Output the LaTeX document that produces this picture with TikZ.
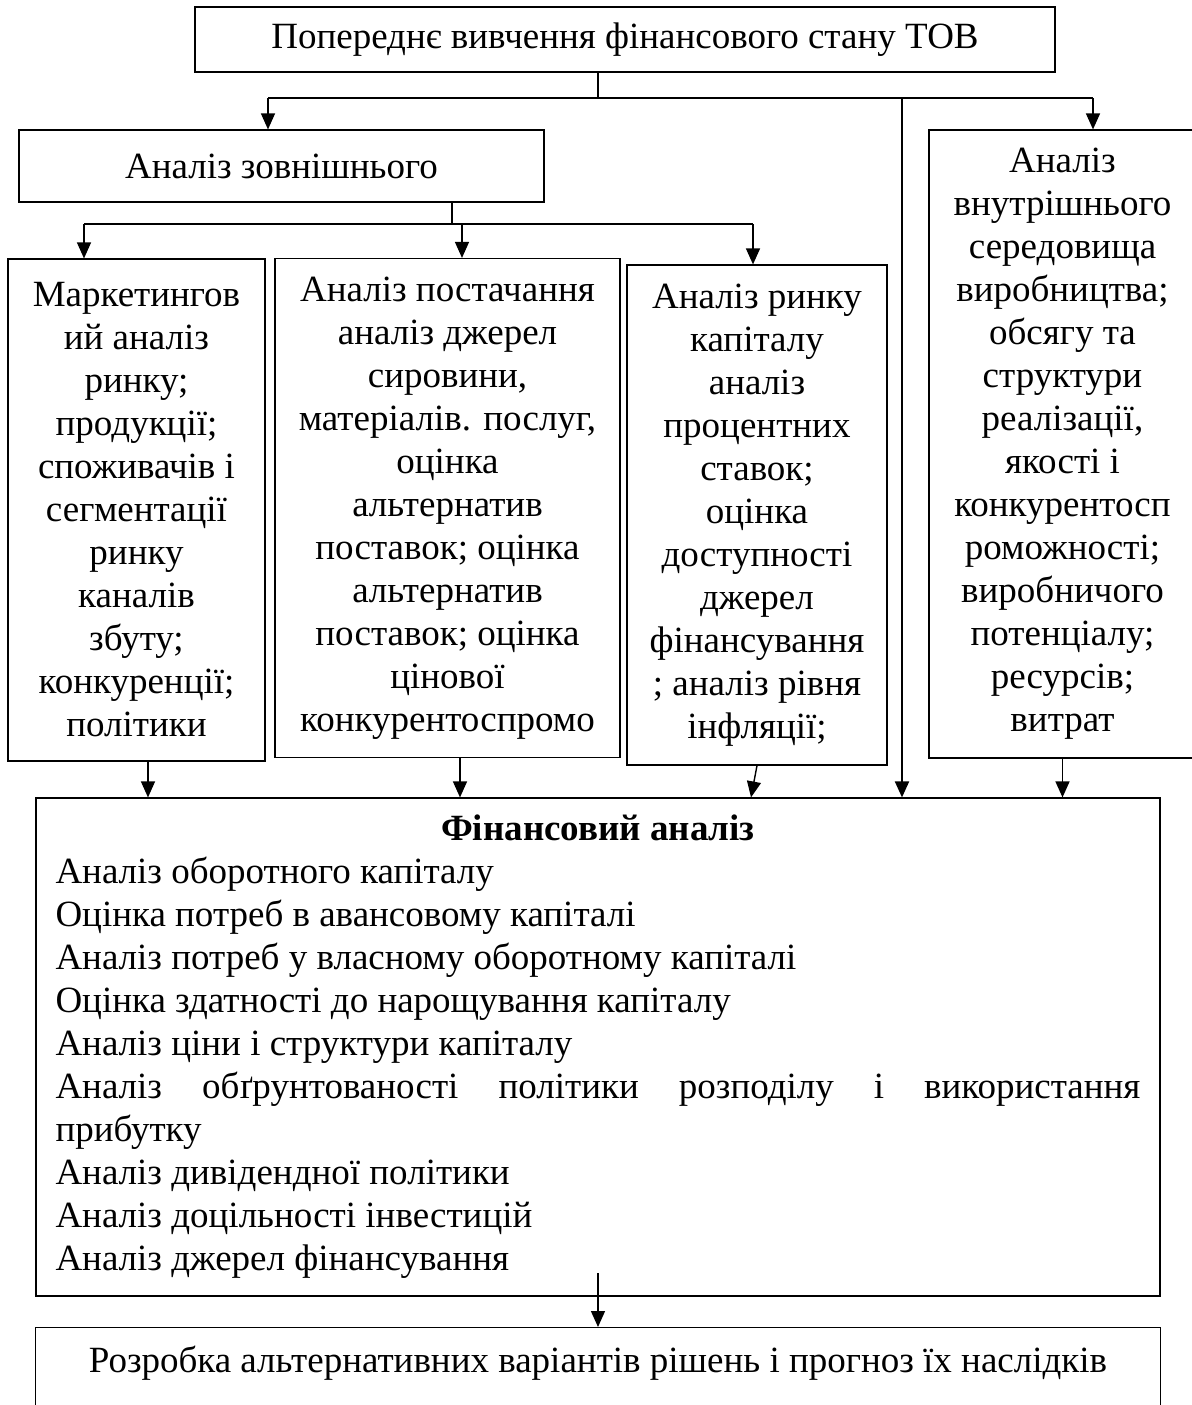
\documentclass[tikz,border=0pt]{standalone}
\usepackage{fontspec}
\setmainfont{Liberation Serif}
\usetikzlibrary{arrows.meta}
\setlength{\parindent}{0pt}
\setlength{\parskip}{0pt}

\tikzset{
  box/.style={draw, line width=0.6pt, inner sep=0pt},
  col/.style={box, align=flush center, text width=125pt},
  conn/.style={line width=0.7pt},
  arr/.style={conn, -{Triangle[length=8pt,width=7pt]}},
}

\begin{document}
\begin{tikzpicture}[x=0.5pt, y=-0.5pt, font=\fontsize{18.5pt}{21.5pt}\selectfont]
\useasboundingbox (0,0) rectangle (1192,1405);

% boxes
\node[box, minimum width=430pt, minimum height=32.5pt] (prev) at (625,39.5)
  {Попереднє вивчення фінансового стану ТОВ};
\node[box, minimum width=262.5pt, minimum height=36pt] (zovn) at (281.5,166)
  {Аналіз зовнішнього};
\node[col, minimum width=128.5pt, minimum height=251pt] (mark) at (136.5,510)
  {Маркетингов\\ий аналіз\\ринку;\\продукції;\\споживачів і\\сегментації\\ринку\\каналів\\збуту;\\конкуренції;\\політики};
\node[col, text width=165pt, minimum width=172.5pt, minimum height=249.5pt] (post) at (447.5,508)
  {Аналіз постачання\\аналіз джерел\\сировини,\\матеріалів. послуг,\\оцінка\\альтернатив\\поставок; оцінка\\альтернатив\\поставок; оцінка\\цінової\\конкурентоспромо};
\node[col, minimum width=130pt, minimum height=250pt] (kapit) at (757,515)
  {Аналіз ринку\\капіталу\\аналіз\\процентних\\ставок;\\оцінка\\доступності\\джерел\\фінансування\\; аналіз рівня\\інфляції;};
\node[col, minimum width=133.5pt, minimum height=314pt] (vnutr) at (1062.5,444)
  {Аналіз\\внутрішнього\\середовища\\виробництва;\\обсягу та\\структури\\реалізації,\\якості і\\конкурентосп\\роможності;\\виробничого\\потенціалу;\\ресурсів;\\витрат};
\node[box, text width=542.5pt, minimum width=562pt, minimum height=249pt] (fin) at (598,1047)
  {\leftskip=0pt \rightskip=0pt \parfillskip=0pt plus 1fil \spaceskip=0pt \xspaceskip=0pt
   {\centering\bfseries Фінансовий аналіз\par}
   Аналіз оборотного капіталу\par
   Оцінка потреб в авансовому капіталі\par
   Аналіз потреб у власному оборотному капіталі\par
   Оцінка здатності до нарощування капіталу\par
   Аналіз ціни і структури капіталу\par
   Аналіз обґрунтованості політики розподілу і використання\linebreak прибутку\par
   Аналіз дивідендної політики\par
   Аналіз доцільності інвестицій\par
   Аналіз джерел фінансування\par};
\node[box, anchor=north, minimum width=562.5pt, inner ysep=10pt, text height=12.5pt, text depth=40pt] (rozr) at (598,1327)
  {Розробка альтернативних варіантів рішень і прогноз їх наслідків};

% upper branching
\coordinate (tbar) at (598,98);
\coordinate (a1) at (268,98);
\coordinate (a2) at (902,98);
\coordinate (a3) at (1093,98);
\draw[conn] (tbar |- prev.south) -- (tbar);
\draw[conn] (a1) -- (a3);
\draw[arr] (a1) -- (a1 |- zovn.north);
\draw[arr, line width=1pt] (a2) -- (a2 |- fin.north);
\draw[arr] (a3) -- (a3 |- vnutr.north);

% lower branching
\coordinate (zbar) at (452,224);
\coordinate (b1) at (84,224);
\coordinate (b2) at (462,224);
\coordinate (b3) at (753,224);
\draw[conn] (zbar |- zovn.south) -- (zbar);
\draw[conn] (b1) -- (b3);
\draw[arr] (b1) -- (b1 |- mark.north);
\draw[arr] (b2) -- (b2 |- post.north);
\draw[arr] (b3) -- (b3 |- kapit.north);

% into financial analysis
\draw[arr] ([xshift=5.75pt]mark.south) -- ([xshift=5.75pt]mark.south |- fin.north);
\draw[arr] ([xshift=6.25pt]post.south) -- ([xshift=6.25pt]post.south |- fin.north);
\draw[arr] (kapit.south) -- ([xshift=-3pt]kapit.south |- fin.north);
\draw[arr] (vnutr.south) -- (vnutr.south |- fin.north);

\coordinate (finout) at (598,1273);
\draw[arr] (finout) -- (finout |- rozr.north);
\end{tikzpicture}
\end{document}
